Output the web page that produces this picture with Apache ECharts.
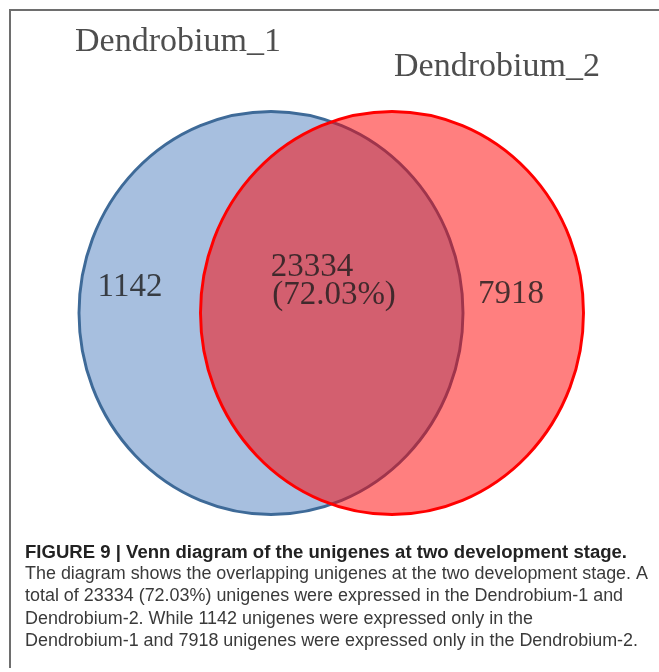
<!DOCTYPE html>
<html>
<head>
<meta charset="utf-8">
<script src="https://cdn.jsdelivr.net/npm/echarts@6/dist/echarts.min.js"></script>
<style>
  html, body { margin: 0; padding: 0; background: #fff; }
  #chart { width: 659px; height: 672px; }
</style>
</head>
<body>
<div id="chart"></div>
<script>
// set names and counts
const setNames = ["Dendrobium_1", "Dendrobium_2"];
const onlyCounts = [1142, 7918];
const sharedCount = 23334;
const sharedPct = "72.03%";

const captionTitle = "FIGURE 9 | Venn diagram of the unigenes at two development stage.";
const captionLines = [
  "The diagram shows the overlapping unigenes at the two development stage. A",
  "total of 23334 (72.03%) unigenes were expressed in the Dendrobium-1 and",
  "Dendrobium-2. While 1142 unigenes were expressed only in the",
  "Dendrobium-1 and 7918 unigenes were expressed only in the Dendrobium-2.",
];

const myChart = echarts.init(document.getElementById("chart"));

// ellipse layout (pixel space of the figure)
const centers = [[271, 313], [392, 313]];
const sizes = [[384, 403], [383, 403]];
const fills = ["#a7bfdf", "rgba(255,0,0,0.5)"];
const strokes = ["#3e6a98", "#ff0000"];

// measure caption to fake the condensed face
const ctx = document.createElement("canvas").getContext("2d");
function measure(text, font) {
  ctx.font = font;
  return ctx.measureText(text).width;
}
const capFont = "17.5px 'Liberation Sans'";
const capBoldFont = "bold 17.5px 'Liberation Sans'";
const regScale = 623 / measure(captionLines[0], capFont);
const boldScale = 602 / measure(captionTitle, capBoldFont);

const serif = "'Liberation Serif', 'DejaVu Serif', serif";
const numLabel = {
  show: true,
  position: "inside",
  formatter: "{b}",
  fontFamily: serif,
  fontSize: 33,
  color: "#1c1c1c",
};

const setSeries = setNames.map((name, i) => ({
  name: name,
  type: "scatter",
  silent: true,
  symbol: "circle",
  symbolSize: sizes[i],
  itemStyle: {
    color: fills[i],
    borderColor: strokes[i],
    borderWidth: 3,
    opacity: 1,
  },
  data: [centers[i]],
  z: 2,
}));

const captionGraphics = [
  {
    type: "text",
    x: 25,
    y: 553,
    scaleX: boldScale,
    style: {
      text: captionTitle,
      font: capBoldFont,
      fill: "#222",
      verticalAlign: "middle",
    },
  },
].concat(
  captionLines.map((line, i) => ({
    type: "text",
    x: 25,
    y: 574 + i * 22.4,
    scaleX: regScale,
    style: {
      text: line,
      font: capFont,
      fill: "#3a3a3a",
      verticalAlign: "middle",
    },
  }))
);

const option = {
  backgroundColor: "#fff",
  animation: false,
  grid: { left: 0, right: 0, top: 0, bottom: 0 },
  xAxis: { type: "value", min: 0, max: 659, show: false },
  yAxis: { type: "value", min: 0, max: 672, inverse: true, show: false },
  graphic: [
    {
      type: "polyline",
      shape: { points: [[10, 668], [10, 10], [659, 10]] },
      style: { stroke: "#6e6e6e", lineWidth: 2, fill: null },
      z: 100,
    },
  ].concat(captionGraphics),
  series: setSeries.concat([
    {
      name: "labels",
      type: "scatter",
      silent: true,
      symbolSize: 0,
      z: 5,
      label: numLabel,
      data: [
        { name: String(onlyCounts[0]), value: [130, 287] },
        { name: String(sharedCount), value: [312, 267] },
        { name: "(" + sharedPct + ")", value: [334, 295] },
        { name: String(onlyCounts[1]), value: [511, 294] },
      ],
    },
    {
      name: "titles",
      type: "scatter",
      silent: true,
      symbolSize: 0,
      z: 5,
      label: Object.assign({}, numLabel, { fontSize: 34, color: "#222" }),
      data: [
        { name: setNames[0], value: [178, 42] },
        { name: setNames[1], value: [497, 67] },
      ],
    },
  ]),
};

myChart.setOption(option);
</script>
</body>
</html>
